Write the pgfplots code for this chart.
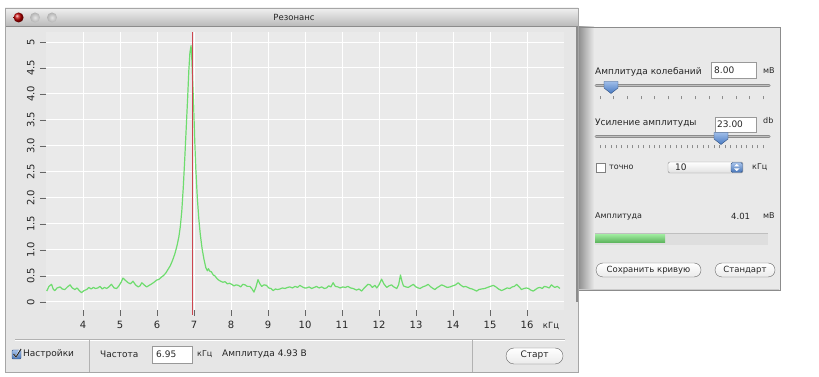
\documentclass[border=0pt]{standalone}
\usepackage{fontspec}
\setmainfont{DejaVu Sans}
\usepackage{pgfplots}
\pgfplotsset{compat=1.18}
\definecolor{winbg}{HTML}{E6E6E6}
\definecolor{plotbg}{HTML}{EAEAEA}
\definecolor{panelbg}{HTML}{E9E9E9}
\definecolor{curve}{RGB}{110,220,110}
\definecolor{marker}{RGB}{205,70,80}
\definecolor{txt}{HTML}{262626}
\definecolor{knob}{RGB}{80,135,215}
\pgfplotstableread{
x y
3.02 0.21
3.08 0.30
3.15 0.34
3.20 0.24
3.24 0.22
3.30 0.27
3.38 0.29
3.44 0.25
3.51 0.24
3.58 0.29
3.65 0.33
3.71 0.27
3.78 0.24
3.84 0.27
3.90 0.22
3.96 0.18
4.03 0.22
4.10 0.24
4.16 0.28
4.22 0.25
4.28 0.28
4.34 0.26
4.40 0.27
4.46 0.30
4.52 0.25
4.58 0.28
4.64 0.26
4.70 0.29
4.77 0.34
4.84 0.27
4.91 0.26
4.97 0.31
5.03 0.38
5.08 0.46
5.14 0.42
5.22 0.37
5.28 0.35
5.35 0.40
5.42 0.33
5.49 0.29
5.54 0.31
5.59 0.37
5.65 0.33
5.72 0.29
5.79 0.32
5.86 0.35
5.92 0.38
5.99 0.42
6.06 0.44
6.12 0.48
6.18 0.51
6.24 0.56
6.30 0.63
6.36 0.70
6.42 0.80
6.48 0.92
6.54 1.08
6.59 1.25
6.63 1.45
6.67 1.75
6.71 2.20
6.75 2.75
6.79 3.35
6.83 3.95
6.86 4.45
6.89 4.80
6.92 4.93
6.94 4.70
6.96 4.30
6.99 3.80
7.02 3.10
7.05 2.55
7.09 2.00
7.13 1.60
7.17 1.30
7.22 1.02
7.27 0.82
7.32 0.66
7.36 0.60
7.39 0.64
7.43 0.59
7.47 0.58
7.52 0.52
7.57 0.50
7.62 0.45
7.67 0.42
7.72 0.40
7.78 0.38
7.84 0.39
7.90 0.35
7.96 0.36
8.02 0.34
8.08 0.31
8.14 0.33
8.20 0.32
8.26 0.29
8.32 0.34
8.38 0.33
8.44 0.30
8.51 0.30
8.57 0.25
8.62 0.19
8.67 0.28
8.73 0.43
8.78 0.35
8.83 0.30
8.89 0.33
8.96 0.32
9.02 0.27
9.08 0.26
9.14 0.22
9.20 0.25
9.26 0.24
9.32 0.25
9.39 0.27
9.46 0.26
9.53 0.28
9.59 0.29
9.66 0.27
9.73 0.30
9.80 0.28
9.86 0.32
9.93 0.29
9.99 0.27
10.04 0.27
10.11 0.29
10.18 0.26
10.25 0.28
10.31 0.30
10.38 0.27
10.45 0.29
10.52 0.26
10.58 0.27
10.64 0.31
10.70 0.29
10.76 0.37
10.82 0.30
10.89 0.29
10.95 0.27
11.02 0.29
11.09 0.28
11.16 0.30
11.23 0.27
11.30 0.26
11.39 0.23
11.46 0.25
11.53 0.21
11.60 0.27
11.66 0.31
11.70 0.34
11.76 0.33
11.82 0.28
11.89 0.32
11.94 0.27
12.00 0.33
12.07 0.44
12.13 0.35
12.21 0.28
12.27 0.31
12.34 0.33
12.40 0.29
12.48 0.26
12.53 0.33
12.58 0.52
12.62 0.40
12.66 0.31
12.73 0.29
12.79 0.28
12.86 0.31
12.93 0.34
13.00 0.29
13.06 0.27
13.11 0.26
13.18 0.29
13.26 0.31
13.33 0.34
13.40 0.29
13.46 0.26
13.51 0.24
13.58 0.28
13.63 0.30
13.69 0.33
13.76 0.31
13.84 0.28
13.92 0.29
13.99 0.31
14.07 0.33
14.14 0.37
14.20 0.33
14.28 0.29
14.34 0.30
14.40 0.28
14.46 0.26
14.52 0.25
14.58 0.23
14.64 0.21
14.70 0.24
14.77 0.25
14.86 0.26
14.93 0.28
15.01 0.30
15.09 0.32
15.16 0.29
15.23 0.25
15.31 0.22
15.38 0.24
15.46 0.27
15.54 0.26
15.60 0.29
15.66 0.30
15.72 0.34
15.79 0.29
15.85 0.24
15.92 0.26
15.98 0.27
16.04 0.26
16.10 0.23
16.17 0.21
16.23 0.24
16.29 0.27
16.35 0.28
16.41 0.26
16.47 0.30
16.53 0.29
16.60 0.27
16.66 0.33
16.71 0.30
16.75 0.28
16.82 0.30
16.89 0.26
}\spectrum
\begin{document}
\begin{tikzpicture}[font=\fontsize{9}{11}\selectfont,text=txt]
\begin{scope}[x=1pt,y=1pt]
\path[use as bounding box] (0,0) rectangle (819,377);
\fill[white] (0,0) rectangle (819,377);
% ---------- right drawer panel ----------
\fill[panelbg] (578,87) rectangle (780,350);
\shade[left color=black!45, right color=panelbg] (578,87) rectangle (594,350);
\draw[black!45] (578,350) -- (780,350) -- (780,87) -- (578,87);
\draw[black!20] (578,88) -- (779,88);
% text rows
\node[anchor=west,inner sep=0] at (595,305) {Амплитуда колебаний};
\draw[black!40,fill=white] (711,299) rectangle (756,315);
\node[anchor=west,inner sep=0] at (714,307) {8.00};
\node[anchor=west,inner sep=0,font=\fontsize{8}{10}\selectfont] at (763,306) {мВ};
% slider 1
\draw[line width=3pt,black!45,line cap=round] (596,291) -- (769,291);
\draw[line width=1.2pt,black!25,line cap=round] (596,291.6) -- (769,291.6);
\foreach \i in {0,...,12} {\draw[black!45,line width=0.6pt] ({600+\i*13.6},277.5) -- ({600+\i*13.6},280.5);}
\shade[top color=knob!55!white, bottom color=knob!90!black,draw=knob!60!black]
  (604,295.5) -- (618,295.5) -- (618,289) -- (611,283.5) -- (604,289) -- cycle;
% row 2
\node[anchor=west,inner sep=0] at (595,254) {Усиление амплитуды};
\draw[black!40,fill=white] (715,245) rectangle (756,260);
\node[anchor=west,inner sep=0] at (717,252.5) {23.00};
\node[anchor=west,inner sep=0,font=\fontsize{8}{10}\selectfont] at (763,256) {db};
\draw[line width=3pt,black!45,line cap=round] (596,240) -- (769,240);
\draw[line width=1.2pt,black!25,line cap=round] (596,240.6) -- (769,240.6);
\foreach \i in {0,...,30} {\draw[black!45,line width=0.5pt] ({600+\i*5.43},228.5) -- ({600+\i*5.43},231.5);}
\shade[top color=knob!55!white, bottom color=knob!90!black,draw=knob!60!black]
  (714,244.5) -- (728,244.5) -- (728,238) -- (721,232.5) -- (714,238) -- cycle;
% row 3
\draw[black!50,fill=white] (596,205) rectangle (605,214);
\node[anchor=west,inner sep=0,font=\fontsize{8}{10}\selectfont] at (609,209.5) {точно};
\shade[top color=white, bottom color=black!12,draw=black!45,rounded corners=2pt] (668,204) rectangle (743,215);
\shade[top color=knob!50!white, bottom color=knob!85!black,draw=knob!60!black,rounded corners=1.5pt] (731,204.5) rectangle (742.5,214.5);
\fill[white] (734,210.5) -- (739.5,210.5) -- (736.75,213) -- cycle;
\fill[white] (734,208.5) -- (739.5,208.5) -- (736.75,206) -- cycle;
\node[anchor=west,inner sep=0] at (675,209.5) {10};
\node[anchor=west,inner sep=0,font=\fontsize{8}{10}\selectfont] at (752,209.5) {кГц};
% amplitude
\node[anchor=west,inner sep=0,font=\fontsize{8}{10}\selectfont] at (595,161) {Амплитуда};
\node[anchor=west,inner sep=0,font=\fontsize{8.5}{10}\selectfont] at (731,161) {4.01};
\node[anchor=west,inner sep=0,font=\fontsize{8}{10}\selectfont] at (763,161) {мВ};
\fill[black!13] (595,132) rectangle (768,144);
\draw[black!25] (595,144) -- (768,144);
\shade[top color=curve!70!white, bottom color=curve!80!black] (595,134) rectangle (665,142);
% buttons
\shade[top color=white, bottom color=black!8,draw=black!60,rounded corners=7pt] (596,100) rectangle (701,114);
\node[font=\fontsize{8.5}{10}\selectfont] at (648.5,107) {Сохранить кривую};
\shade[top color=white, bottom color=black!8,draw=black!60,rounded corners=7pt] (715,100) rectangle (775,114);
\node[font=\fontsize{8.5}{10}\selectfont] at (745,107) {Стандарт};
% ---------- main window ----------
\fill[winbg] (5,5) rectangle (578,369);
\shade[top color=black!6, bottom color=black!27] (5,351) rectangle (578,369);
\draw[black!45] (5,351) -- (578,351);
\draw[black!35] (5,5) rectangle (578,369);
\draw[black!45,line width=1.5pt] (577,75) -- (577,350);
\shade[ball color=red!75!black] (18.6,359.5) circle (5);
\shade[inner color=black!10, outer color=black!30] (35,359.5) circle (5);
\shade[inner color=black!10, outer color=black!30] (52,359.5) circle (5);
\node[font=\fontsize{8.5}{10}\selectfont] at (294,360) {Резонанс};
% bottom bar
\draw[black!30] (15,38) -- (565,38);
\draw[white] (15,37) -- (565,37);
\draw[black!30] (89,5) -- (89,38);
\draw[black!30] (472,5) -- (472,38);
\shade[top color=knob!50!white, bottom color=knob!85!black,draw=knob!60!black,rounded corners=1pt] (12,18) rectangle (21,27);
\draw[white,line width=1.3pt] (13.5,23) -- (16,20) -- (20,27.5);
\draw[txt,line width=1pt] (13.5,23) -- (16,20) -- (21,28);
\node[anchor=west,inner sep=0] at (23,22.5) {Настройки};
\node[anchor=west,inner sep=0] at (100,22.5) {Частота};
\draw[black!40,fill=white] (152,14) rectangle (192,31);
\node[anchor=west,inner sep=0] at (156,22.5) {6.95};
\node[anchor=west,inner sep=0,font=\fontsize{8}{10}\selectfont] at (197,22.5) {кГц};
\node[anchor=west,inner sep=0] at (222,22.5) {Амплитуда 4.93 В};
\shade[top color=white, bottom color=black!8,draw=black!60,rounded corners=8pt] (506,13) rectangle (563,29);
\node at (534.5,21.5) {Старт};
\node[font=\fontsize{8.5}{10}\selectfont] at (551,51) {кГц};
\end{scope}
% ---------- plot ----------
\begin{axis}[
  at={(46pt,67.2pt)}, anchor=south west,
  scale only axis, width=518pt, height=278.2pt,
  xmin=3, xmax=17, ymin=-0.15, ymax=5.2,
  axis background/.style={fill=plotbg},
  axis line style={draw=none},
  grid=major, major grid style={white,line width=1pt},
  xtick={4,...,16},
  ytick={0,0.5,1,1.5,2,2.5,3,3.5,4,4.5,5},
  yticklabels={0,0.5,1.0,1.5,2.0,2.5,3.0,3.5,4.0,4.5,5},
  xtick pos=bottom, ytick pos=left,
  tick align=outside, major tick length=6pt,
  tick style={black!60,line width=0.8pt},
  xticklabel style={font=\fontsize{10}{12}\selectfont,text=txt,yshift=-2pt},
  yticklabel style={font=\fontsize{10}{12}\selectfont,text=txt,rotate=90,anchor=south},
  yticklabel shift=2pt,
  /pgf/number format/assume math mode=true,
  clip=false,
]
\addplot[curve,line width=1.2pt,line join=round] table[x=x,y=y] {\spectrum};
\addplot[marker,line width=1pt] coordinates {(6.95,-0.25) (6.95,5.2)};
\end{axis}
\end{tikzpicture}
\end{document}
